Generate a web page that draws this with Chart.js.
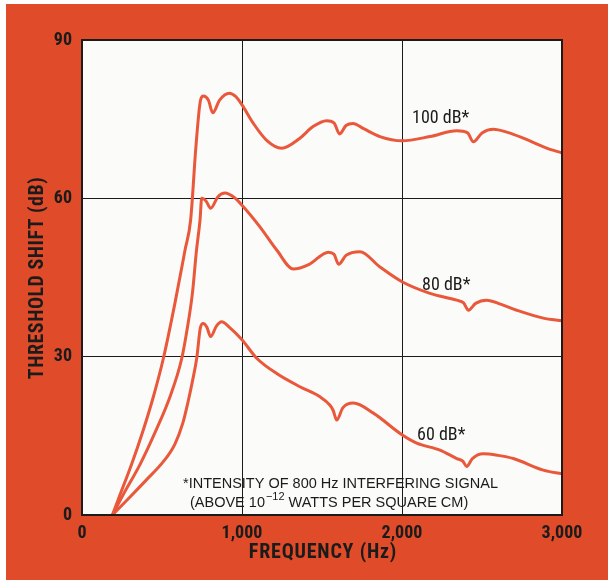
<!DOCTYPE html>
<html>
<head>
<meta charset="utf-8">
<script src="https://cdn.jsdelivr.net/npm/chart.js@4"></script>
<style>
  html, body { margin: 0; padding: 0; background: #ffffff; }
  canvas { display: block; }
</style>
</head>
<body>
<canvas id="chart" width="613" height="588"></canvas>
<script>
// frequency (Hz) / threshold shift (dB)
const freq100 = [190, 227, 310, 383, 446, 508, 580, 644, 679, 712, 740, 758, 790, 817, 860, 921, 960, 1000, 1071, 1154, 1248, 1362, 1444, 1529, 1575, 1610, 1650, 1694, 1760, 1862, 2000, 2175, 2342, 2410, 2446, 2500, 2571, 2660, 2758, 2904, 3000];
const shift100 = [0, 3.0, 9.6, 16.1, 22.4, 29.6, 40, 50.2, 55.9, 69.8, 78.5, 79.4, 78.6, 76.2, 78.6, 79.9, 79.3, 77.7, 74.2, 71, 69.5, 71.4, 73.6, 74.7, 74.3, 72.2, 73.8, 74.2, 73.2, 71.7, 70.9, 71.7, 72.8, 72.4, 70.7, 72.4, 73.1, 72.5, 71.4, 69.5, 68.6];

const freq80 = [190, 258, 363, 456, 550, 623, 656, 690, 715, 738, 748, 775, 804, 850, 894, 950, 1000, 1112, 1217, 1321, 1420, 1540, 1575, 1604, 1650, 1737, 1862, 2000, 2175, 2342, 2385, 2415, 2460, 2529, 2620, 2717, 2883, 3000];
const shift80 = [0, 3.9, 9.6, 15.6, 22.4, 29.6, 35, 42, 50, 56, 60, 59.5, 58.1, 60.3, 61, 60.2, 58.7, 54.6, 50.2, 46.6, 47.5, 49.8, 49.4, 47.5, 49.2, 49.9, 47, 44.2, 42, 40.7, 40.2, 38.8, 40.1, 40.7, 39.9, 38.8, 37.3, 36.8];

const freq60 = [190, 300, 404, 508, 580, 630, 664, 692, 717, 740, 758, 780, 804, 840, 873, 920, 1000, 1092, 1217, 1362, 1487, 1550, 1570, 1592, 1630, 1696, 1821, 2000, 2092, 2237, 2342, 2380, 2404, 2440, 2508, 2600, 2696, 2883, 3000];
const shift60 = [0, 3.4, 6.7, 10.1, 13.4, 17.4, 21.6, 25.6, 29.7, 35.5, 36.3, 35.6, 33.8, 35.8, 36.6, 35.6, 33.2, 29.7, 26.8, 24.3, 22.4, 20.8, 19.8, 18, 20.3, 21.2, 19.3, 15.2, 13.6, 12.3, 10.7, 10.2, 9.2, 10.7, 11.6, 11.3, 10.7, 8.5, 7.8];

const seriesLabels = ['100 dB*', '80 dB*', '60 dB*'];
const xTicks = [0, 1000, 2000, 3000];
const yTicks = [0, 30, 60, 90];

const ORANGE = '#e04b29';
const LINE = '#e9583a';
const INK = '#1b1b1b';
const NARROW = '"Roboto Condensed", "DejaVu Sans Condensed", sans-serif';
const PLAIN = '"Liberation Sans", Arial, sans-serif';

function toPoints(xs, ys) {
  return xs.map((x, i) => ({ x: x, y: ys[i] }));
}

function lineSet(label, xs, ys) {
  return {
    label: label,
    data: toPoints(xs, ys),
    borderColor: LINE,
    borderWidth: 3,
    pointRadius: 0,
    fill: false,
    cubicInterpolationMode: 'monotone'
  };
}

const backdrop = {
  id: 'backdrop',
  beforeDraw(chart) {
    const { ctx, chartArea: a } = chart;
    ctx.save();
    ctx.fillStyle = '#ffffff';
    ctx.fillRect(0, 0, chart.width, chart.height);
    ctx.fillStyle = ORANGE;
    ctx.fillRect(6, 4, 602, 576);
    ctx.fillStyle = '#fbfbf9';
    ctx.fillRect(a.left, a.top, a.right - a.left, a.bottom - a.top);
    ctx.restore();
  },
  afterDraw(chart) {
    const { ctx, chartArea: a } = chart;
    ctx.save();
    ctx.strokeStyle = INK;
    ctx.lineWidth = 2;
    ctx.strokeRect(a.left, a.top, a.right - a.left, a.bottom - a.top);

    ctx.fillStyle = INK;
    // curve labels
    ctx.font = '18px ' + NARROW;
    ctx.textBaseline = 'middle';
    ctx.textAlign = 'left';
    ctx.fillText(seriesLabels[0], 412, 118);
    ctx.fillText(seriesLabels[1], 422, 285);
    ctx.fillText(seriesLabels[2], 417, 435);

    // footnote
    ctx.font = '14.5px ' + PLAIN;
    ctx.fillText('*INTENSITY OF 800 Hz INTERFERING SIGNAL', 183, 484);
    let x = 190;
    ctx.fillText('(ABOVE 10', x, 503);
    x += ctx.measureText('(ABOVE 10').width;
    ctx.font = '11px ' + PLAIN;
    ctx.fillText('\u221212', x + 1, 497);
    x += ctx.measureText('\u221212').width + 5;
    ctx.font = '14.5px ' + PLAIN;
    ctx.fillText('WATTS PER SQUARE CM)', x, 503);

    // axis titles
    ctx.font = 'bold 20px ' + NARROW;
    ctx.textAlign = 'center';
    ctx.letterSpacing = '0.8px';
    ctx.fillText('FREQUENCY (Hz)', 323, 553);
    ctx.letterSpacing = '0.5px';
    ctx.translate(38, 278);
    ctx.rotate(-Math.PI / 2);
    ctx.fillText('THRESHOLD SHIFT (dB)', 0, 0);
    ctx.restore();
  }
};

new Chart(document.getElementById('chart'), {
  type: 'line',
  data: {
    datasets: [
      lineSet(seriesLabels[0], freq100, shift100),
      lineSet(seriesLabels[1], freq80, shift80),
      lineSet(seriesLabels[2], freq60, shift60)
    ]
  },
  options: {
    responsive: false,
    animation: false,
    layout: { padding: { left: 0, top: 40, right: 51, bottom: 0 } },
    plugins: {
      legend: { display: false },
      tooltip: { enabled: false }
    },
    scales: {
      x: {
        type: 'linear',
        min: 0,
        max: 3000,
        afterFit: (s) => { s.height = 73; },
        afterBuildTicks: (s) => { s.ticks = xTicks.map((v) => ({ value: v })); },
        grid: { color: INK, lineWidth: 1, drawTicks: false },
        border: { color: INK, width: 2 },
        ticks: {
          padding: 8,
          color: INK,
          font: { family: NARROW, size: 18, weight: 'bold' },
          maxRotation: 0,
          callback: (v) => v.toLocaleString('en-US')
        }
      },
      y: {
        min: 0,
        max: 90,
        afterFit: (s) => { s.width = 82; },
        afterBuildTicks: (s) => { s.ticks = yTicks.map((v) => ({ value: v })); },
        grid: { color: INK, lineWidth: 1, drawTicks: false },
        border: { color: INK, width: 2 },
        ticks: {
          padding: 10,
          color: INK,
          font: { family: NARROW, size: 18, weight: 'bold' }
        }
      }
    }
  },
  plugins: [backdrop]
});
</script>
</body>
</html>
